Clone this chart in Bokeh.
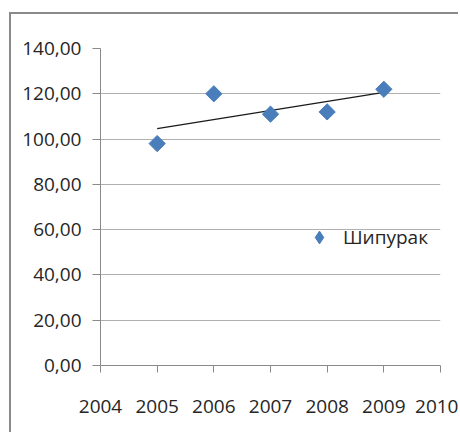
import numpy as np
from math import pi
from bokeh.plotting import figure
from bokeh.models import (ColumnDataSource, Legend, LegendItem, CustomJSTickFormatter,
                          FixedTicker)
from bokeh.embed import file_html
from bokeh.resources import INLINE

# ---- data ----
years = [2005, 2006, 2007, 2008, 2009]
values = [98.0, 120.0, 111.0, 112.0, 122.0]
series_name = "Шипурак"
x_ticks = [2004, 2005, 2006, 2007, 2008, 2009, 2010]
y_ticks = [0, 20, 40, 60, 80, 100, 120, 140]

FONT = "Open Sans"
TXT = "#262626"
BLUE = "#4A7EBB"

p = figure(width=449, height=420, output_backend="svg", toolbar_location=None,
           x_range=(2004, 2010), y_range=(0, 140),
           min_border_left=89, min_border_top=34, min_border_right=20, min_border_bottom=69)
# outer chart border: only its left and top edges fall inside the window
p.margin = (12, 0, 0, 9)
p.styles = {"border-left": "2px solid #8a8a8a", "border-top": "2px solid #8a8a8a"}
p.outline_line_color = None
p.background_fill_color = "white"
p.border_fill_color = "white"

src = ColumnDataSource(dict(x=years, y=values))

# linear trend line (least squares) from the data
k, b = np.polyfit(years, values, 1)
tx = [years[0], years[-1]]
ty = [k * tx[0] + b, k * tx[1] + b]
p.line(tx, ty, line_color="#1a1a1a", line_width=1.2)

# legend icon renderer (diamond), hidden underneath the data markers
proxy = p.scatter("x", "y", source=src, marker="diamond", size=10,
                  fill_color=BLUE, line_color=BLUE, line_width=1)
p.scatter("x", "y", source=src, marker="square", angle=pi / 4, size=11.5,
          fill_color=BLUE, line_color=BLUE, line_width=1)

# axes
p.xaxis.ticker = FixedTicker(ticks=x_ticks)
p.yaxis.ticker = FixedTicker(ticks=y_ticks)
p.yaxis.formatter = CustomJSTickFormatter(code="return tick.toFixed(2).replace('.', ',');")
for ax in (p.xaxis[0], p.yaxis[0]):
    ax.axis_line_color = "#8a8a8a"
    ax.major_tick_line_color = "#8a8a8a"
    ax.minor_tick_line_color = None
    ax.major_tick_in = 0
    ax.major_label_text_font = FONT
    ax.major_label_text_font_size = "19px"
    ax.major_label_text_color = TXT
p.xaxis.major_tick_out = 7
p.yaxis.major_tick_out = 8
p.xaxis.major_label_standoff = 27
p.yaxis.major_label_standoff = 11

p.xgrid.grid_line_color = None
p.ygrid.grid_line_color = "#b0b0b0"
p.ygrid.grid_line_width = 1.2

legend = Legend(items=[LegendItem(label=series_name, renderers=[proxy])],
                location=(203, 112), padding=0, margin=0, label_standoff=8,
                glyph_width=32, glyph_height=32, border_line_color=None,
                background_fill_alpha=0, label_text_font=FONT,
                label_text_font_size="19px", label_text_color=TXT)
p.add_layout(legend)

open("out.html", "w").write(file_html(p, INLINE))
